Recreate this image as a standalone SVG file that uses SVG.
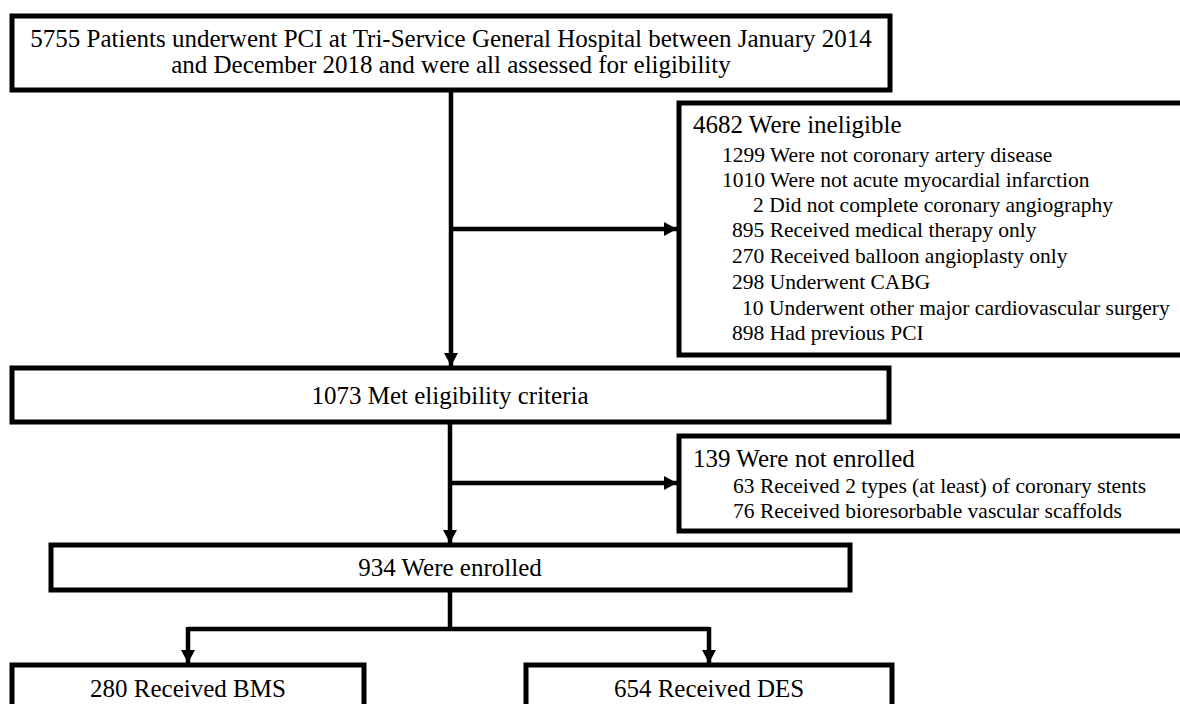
<svg xmlns="http://www.w3.org/2000/svg" width="1180" height="704" viewBox="0 0 1180 704" font-family="'Liberation Serif', 'Times New Roman', 'DejaVu Serif', serif">
<defs>
<style>
.box{fill:#fff;stroke:#000;stroke-width:5}
.ln{fill:none;stroke:#000;stroke-width:4.5}
.m{font-size:25px}
.s{font-size:21.5px}
.c{text-anchor:middle}
</style>
<marker id="ah" markerUnits="userSpaceOnUse" markerWidth="14" markerHeight="14" refX="13" refY="7" orient="auto">
<path d="M0,0 L13,7 L0,14 z" fill="#000"/>
</marker>
</defs>
<rect width="1180" height="704" fill="#fff"/>
<g id="connectors">
<line class="ln" x1="451" y1="90" x2="451" y2="366" marker-end="url(#ah)"/>
<line class="ln" x1="451" y1="229" x2="677" y2="229" marker-end="url(#ah)"/>
<line class="ln" x1="450" y1="422" x2="450" y2="543" marker-end="url(#ah)"/>
<line class="ln" x1="450" y1="483" x2="677" y2="483" marker-end="url(#ah)"/>
<path class="ln" d="M450,590 V629 M188,629 H709"/>
<line class="ln" x1="188" y1="627" x2="188" y2="663" marker-end="url(#ah)"/>
<line class="ln" x1="709" y1="627" x2="709" y2="663" marker-end="url(#ah)"/>
</g>
<g id="n-assessed">
<rect class="box" x="12" y="16" width="878" height="74"/>
<text class="m c" x="451" y="47">5755 Patients underwent PCI at Tri-Service General Hospital between January 2014</text>
<text class="m c" x="451" y="73">and December 2018 and were all assessed for eligibility</text>
</g>
<g id="n-ineligible">
<rect class="box" x="679" y="103" width="520" height="252"/>
<text class="m" x="693" y="133">4682 Were ineligible</text>
<text class="s" x="722" y="162">1299 Were not coronary artery disease</text>
<text class="s" x="722" y="187">1010 Were not acute myocardial infarction</text>
<text class="s" x="753" y="212">2 Did not complete coronary angiography</text>
<text class="s" x="732" y="237">895 Received medical therapy only</text>
<text class="s" x="732" y="263">270 Received balloon angioplasty only</text>
<text class="s" x="732" y="289">298 Underwent CABG</text>
<text class="s" x="742" y="315">10 Underwent other major cardiovascular surgery</text>
<text class="s" x="732" y="340">898 Had previous PCI</text>
</g>
<g id="n-eligible">
<rect class="box" x="12" y="368" width="877" height="54"/>
<text class="m c" x="450" y="404">1073 Met eligibility criteria</text>
</g>
<g id="n-notenrolled">
<rect class="box" x="679" y="436" width="520" height="95"/>
<text class="m" x="693" y="467">139 Were not enrolled</text>
<text class="s" x="733" y="493">63 Received 2 types (at least) of coronary stents</text>
<text class="s" x="733" y="518">76 Received bioresorbable vascular scaffolds</text>
</g>
<g id="n-enrolled">
<rect class="box" x="51" y="545" width="799" height="45"/>
<text class="m c" x="450" y="576">934 Were enrolled</text>
</g>
<g id="n-bms">
<rect class="box" x="12" y="665" width="352" height="70"/>
<text class="m c" x="188" y="697">280 Received BMS</text>
</g>
<g id="n-des">
<rect class="box" x="526" y="665" width="366" height="70"/>
<text class="m c" x="709" y="697">654 Received DES</text>
</g>
</svg>
